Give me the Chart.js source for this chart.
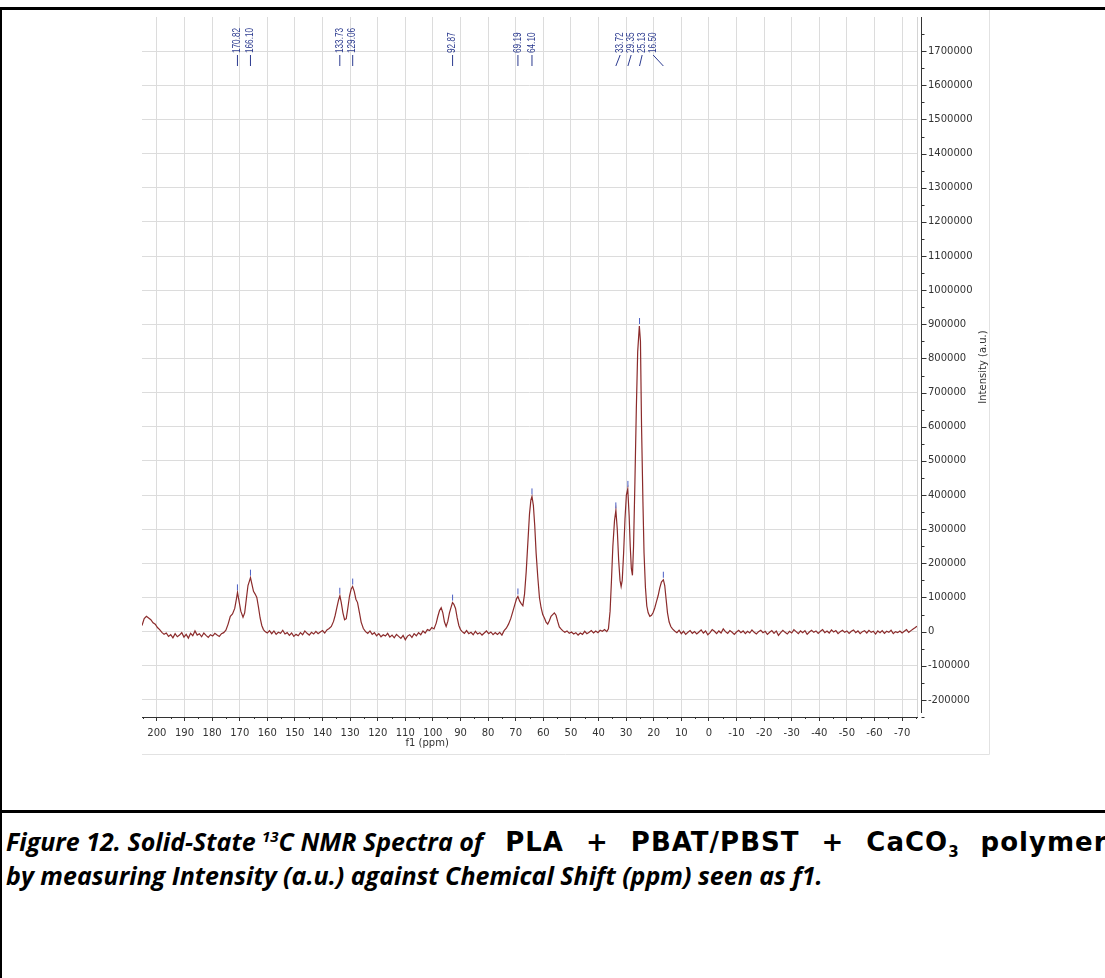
<!DOCTYPE html>
<html>
<head>
<meta charset="utf-8">
<title>Solid-State 13C NMR</title>
<script src="https://cdn.jsdelivr.net/npm/chart.js@4.4.1/dist/chart.umd.min.js"></script>
<style>
  html, body { margin: 0; padding: 0; background: #fff; }
  body { width: 1105px; height: 978px; position: relative; overflow: hidden; }
  #frame { position: absolute; left: 0; top: 7px; width: 1200px; height: 1000px;
           border-top: 3px solid #000; border-left: 2px solid #000; }
  #divider { position: absolute; left: 0; top: 810px; width: 1200px; border-top: 3px solid #000; }
  #chartBox { position: absolute; left: 0; top: 0; width: 1105px; height: 800px; }
  #caption { position: absolute; left: 6px; top: 825px; white-space: nowrap;
             font-family: 'Open Sans', sans-serif; font-weight: bold; font-size: 25px;
             line-height: 33px; color: #000; }
  #caption .up { font-family: 'DejaVu Sans', sans-serif; font-size: 26px;
                 letter-spacing: 1px; word-spacing: 12px; }
  #caption sup, #caption sub { font-size: 15px; line-height: 0; letter-spacing: 0; }
</style>
</head>
<body>
<div id="frame"></div>
<div id="chartBox"><canvas id="nmr" width="1105" height="800"></canvas></div>
<div id="divider"></div>
<div id="caption">
  <div><i>Figure 12. Solid-State <sup>13</sup>C NMR Spectra of</i><span class="up"> PLA + PBAT/PBST + CaCO<sub>3</sub> polymer</span></div>
  <div><i>by measuring Intensity (a.u.) against Chemical Shift (ppm) seen as f1.</i></div>
</div>
<script>
// chemical shift (ppm) and intensity (a.u.) of the spectrum
const shiftPpm = [
  205.4, 204.6, 203.8, 203.0, 202.2, 201.4, 200.6, 199.8, 199.0, 198.2,
  197.4, 196.6, 195.8, 195.0, 194.2, 193.4, 192.6, 191.8, 191.0, 190.2,
  189.4, 188.6, 187.8, 187.0, 186.2, 185.4, 184.6, 183.8, 183.0, 182.2,
  181.4, 180.6, 179.8, 179.0, 178.2, 177.4, 176.6, 175.8, 175.0, 174.2,
  173.4, 172.6, 171.8, 171.2, 170.8, 170.3, 169.6, 168.8, 168.2, 167.6,
  167.0, 166.4, 166.1, 165.6, 165.0, 164.4, 163.8, 163.2, 162.6, 162.0,
  161.4, 160.8, 160.0, 159.2, 158.4, 157.6, 156.8, 156.0, 155.2, 154.4,
  153.6, 152.8, 152.0, 151.2, 150.4, 149.6, 148.8, 148.0, 147.2, 146.4,
  145.6, 144.8, 144.0, 143.2, 142.4, 141.6, 140.8, 140.0, 139.2, 138.4,
  137.6, 136.8, 136.0, 135.4, 134.8, 134.2, 133.7, 133.2, 132.6, 132.0,
  131.4, 130.8, 130.2, 129.6, 129.1, 128.5, 127.9, 127.3, 126.6, 126.0,
  125.2, 124.4, 123.6, 122.8, 122.0, 121.2, 120.4, 119.6, 118.8, 118.0,
  117.2, 116.4, 115.6, 114.8, 114.0, 113.2, 112.4, 111.6, 110.8, 110.0,
  109.2, 108.4, 107.6, 106.8, 106.0, 105.2, 104.4, 103.6, 102.8, 102.0,
  101.2, 100.4, 99.6, 98.8, 98.2, 97.6, 97.0, 96.4, 95.8, 95.2,
  94.6, 94.0, 93.4, 92.9, 92.4, 91.8, 91.2, 90.6, 90.0, 89.4,
  88.6, 87.8, 87.0, 86.2, 85.4, 84.6, 83.8, 83.0, 82.2, 81.4,
  80.6, 79.8, 79.0, 78.2, 77.4, 76.6, 75.8, 75.0, 74.2, 73.4,
  72.6, 71.8, 71.0, 70.3, 69.7, 69.2, 68.6, 68.0, 67.4, 66.8,
  66.2, 65.6, 65.0, 64.5, 64.1, 63.6, 63.1, 62.6, 62.0, 61.4,
  60.8, 60.2, 59.6, 59.0, 58.4, 57.8, 57.2, 56.6, 56.0, 55.4,
  54.8, 54.2, 53.6, 53.0, 52.2, 51.4, 50.6, 49.8, 49.0, 48.2,
  47.4, 46.6, 45.8, 45.0, 44.2, 43.4, 42.6, 41.8, 41.0, 40.2,
  39.4, 38.6, 37.8, 37.0, 36.4, 35.8, 35.3, 34.8, 34.2, 33.7,
  33.2, 32.7, 32.2, 31.8, 31.4, 30.9, 30.4, 29.9, 29.4, 28.9,
  28.5, 28.1, 27.7, 27.3, 26.8, 26.3, 25.8, 25.2, 24.8, 24.4,
  23.9, 23.5, 23.0, 22.5, 22.0, 21.4, 20.8, 20.2, 19.6, 19.0,
  18.4, 17.8, 17.2, 16.5, 16.0, 15.5, 15.0, 14.4, 13.8, 13.2,
  12.4, 11.6, 10.8, 10.0, 9.2, 8.4, 7.6, 6.8, 6.0, 5.2,
  4.4, 3.6, 2.8, 2.0, 1.2, 0.4, -0.4, -1.2, -2.0, -2.8,
  -3.6, -4.4, -5.2, -6.0, -6.8, -7.6, -8.4, -9.2, -10.0, -10.8,
  -11.6, -12.4, -13.2, -14.0, -14.8, -15.6, -16.4, -17.2, -18.0, -18.8,
  -19.6, -20.4, -21.2, -22.0, -22.8, -23.6, -24.4, -25.2, -26.0, -26.8,
  -27.6, -28.4, -29.2, -30.0, -30.8, -31.6, -32.4, -33.2, -34.0, -34.8,
  -35.6, -36.4, -37.2, -38.0, -38.8, -39.6, -40.4, -41.2, -42.0, -42.8,
  -43.6, -44.4, -45.2, -46.0, -46.8, -47.6, -48.4, -49.2, -50.0, -50.8,
  -51.6, -52.4, -53.2, -54.0, -54.8, -55.6, -56.4, -57.2, -58.0, -58.8,
  -59.6, -60.4, -61.2, -62.0, -62.8, -63.6, -64.4, -65.2, -66.0, -66.8,
  -67.6, -68.4, -69.2, -70.0, -70.8, -71.6, -72.4, -73.2, -74.0, -74.8,
  -75.4
];
const intensity = [
  18000, 38000, 45000, 40000, 35000, 26000, 22000, 12000, 6000, -2000,
  -8000, -4000, -14000, -9000, -18000, -6000, -15000, -10000, -3000, -16000,
  -8000, -19000, -5000, -12000, 2000, -10000, -6000, -15000, -4000, -11000,
  -17000, -9000, -13000, -5000, -10000, -14000, -6000, -3000, 4000, 22000,
  45000, 52000, 68000, 95000, 115000, 92000, 60000, 42000, 55000, 95000,
  135000, 150000, 158000, 140000, 118000, 110000, 100000, 72000, 40000, 18000,
  6000, 0, -4000, 3000, -6000, 2000, -8000, -2000, -5000, 4000,
  -7000, -3000, -11000, -4000, -14000, -8000, -12000, -3000, -9000, 2000,
  -5000, -10000, -2000, -7000, 1000, -6000, -1000, 3000, -4000, 5000,
  9000, 15000, 30000, 48000, 70000, 92000, 105000, 85000, 55000, 35000,
  38000, 70000, 105000, 125000, 132000, 118000, 95000, 85000, 55000, 28000,
  9000, 0, -5000, 2000, -8000, -3000, -12000, -6000, -15000, -9000,
  -13000, -5000, -16000, -10000, -18000, -8000, -14000, -20000, -11000, -24000,
  -13000, -9000, -17000, -6000, -12000, -3000, -9000, 2000, -4000, 6000,
  3000, 12000, 8000, 25000, 45000, 62000, 70000, 55000, 28000, 15000,
  30000, 55000, 72000, 85000, 80000, 68000, 40000, 18000, 6000, 0,
  -5000, 3000, -6000, -2000, -9000, 1000, -7000, -3000, -10000, -4000,
  2000, -6000, -1000, -9000, -3000, -8000, -2000, -10000, 3000, 10000,
  22000, 38000, 60000, 80000, 96000, 103000, 90000, 82000, 76000, 110000,
  175000, 260000, 345000, 385000, 396000, 370000, 310000, 230000, 160000, 100000,
  70000, 50000, 40000, 28000, 22000, 32000, 45000, 50000, 55000, 48000,
  30000, 14000, 8000, 3000, -2000, 2000, -5000, -1000, -7000, -3000,
  -10000, -4000, -8000, 1000, -6000, -2000, 3000, -4000, 2000, -3000,
  4000, 1000, 6000, 0, 8000, 60000, 150000, 250000, 325000, 355000,
  300000, 210000, 150000, 132000, 150000, 230000, 330000, 400000, 418000, 340000,
  250000, 185000, 165000, 250000, 440000, 650000, 820000, 895000, 850000, 600000,
  380000, 230000, 130000, 75000, 55000, 45000, 48000, 56000, 70000, 88000,
  105000, 128000, 145000, 152000, 135000, 95000, 55000, 28000, 15000, 8000,
  2000, -3000, 4000, -6000, 1000, -8000, -2000, 3000, -5000, 0,
  -7000, -1000, 5000, -4000, 2000, -9000, -3000, 6000, 1000, -6000,
  2000, -4000, 8000, 0, -5000, 3000, -2000, -8000, -1000, 4000,
  -3000, 2000, -6000, 1000, -4000, 5000, -2000, -7000, 0, 4000,
  -3000, 1000, -8000, -2000, 3000, -5000, 2000, -11000, -3000, 4000,
  -2000, -7000, 1000, -4000, 6000, 0, -6000, 2000, -3000, 3000,
  -8000, -1000, 4000, -2000, 2000, -5000, 1000, 6000, -3000, 2000,
  -4000, 5000, -1000, 3000, -6000, 0, 4000, -2000, 2000, -5000,
  1000, 5000, -3000, 2000, -6000, 0, 3000, -4000, 4000, -2000,
  1000, -7000, 2000, -3000, 3000, -5000, 1000, -2000, 4000, -6000,
  0, -3000, 2000, -4000, 1000, 6000, -2000, 3000, 8000, 12000,
  16000
];

// axis ticks
const xTicks = [200, 190, 180, 170, 160, 150, 140, 130, 120, 110, 100, 90, 80, 70, 60,
                50, 40, 30, 20, 10, 0, -10, -20, -30, -40, -50, -60, -70];
const yTicks = [-200000, -100000, 0, 100000, 200000, 300000, 400000, 500000, 600000, 700000,
                800000, 900000, 1000000, 1100000, 1200000, 1300000, 1400000, 1500000,
                1600000, 1700000];

// picked peaks
const peakShifts = [170.82, 166.10, 133.73, 129.06, 92.87, 69.19, 64.10, 33.72, 29.35, 25.13, 16.50];
const peakLabels = ['170.82', '166.10', '133.73', '129.06', '92.87', '69.19', '64.10',
                    '33.72', '29.35', '25.13', '16.50'];

const axisFont = 'DejaVu Sans';
const inkColor = '#333';
const peakColor = '#2b3a8f';

function line(ctx, x1, y1, x2, y2) {
  ctx.beginPath();
  ctx.moveTo(x1, y1);
  ctx.lineTo(x2, y2);
  ctx.stroke();
}

function nearestIndex(ppm) {
  let best = 0;
  for (let i = 1; i < shiftPpm.length; i++) {
    if (Math.abs(shiftPpm[i] - ppm) < Math.abs(shiftPpm[best] - ppm)) best = i;
  }
  return best;
}

// axis line, minor ticks, axis titles and peak labels
const nmrDecor = {
  id: 'nmrDecor',
  afterDraw(chart) {
    const { ctx, chartArea: a, scales: { x, y } } = chart;
    ctx.save();
    ctx.lineWidth = 1;

    // light page frame (right and bottom) and plot right edge
    ctx.strokeStyle = '#e2e2e2';
    line(ctx, 142, 754.5, 989.5, 754.5);
    line(ctx, 989.5, 10, 989.5, 754.5);
    ctx.strokeStyle = '#d4d4d4';
    line(ctx, Math.round(a.right) + 0.5, a.top, Math.round(a.right) + 0.5, a.bottom);

    // intensity axis, set slightly off the plot
    const ax = Math.round(a.right) + 4.5;
    ctx.strokeStyle = inkColor;
    line(ctx, ax, a.top, ax, a.bottom - 4);
    yTicks.forEach(v => {
      const py = Math.round(y.getPixelForValue(v)) + 0.5;
      line(ctx, ax, py, ax + 5, py);
    });
    for (let i = 0; i <= yTicks.length; i++) {
      const lo = i === 0 ? yTicks[0] - 100000 : yTicks[i - 1];
      const v = lo + 50000;
      if (v < y.min || v > y.max) continue;
      const py = Math.round(y.getPixelForValue(v)) + 0.5;
      line(ctx, ax, py, ax + 3, py);
    }

    // minor ticks on the shift axis
    for (let i = 0; i <= xTicks.length; i++) {
      const hi = i === 0 ? xTicks[0] + 10 : xTicks[i - 1];
      const v = hi - 5;
      if (v < x.min || v > x.max) continue;
      const px = Math.round(x.getPixelForValue(v)) + 0.5;
      line(ctx, px, a.bottom, px, a.bottom + 2);
    }

    // axis titles
    ctx.fillStyle = inkColor;
    ctx.font = '10px "' + axisFont + '"';
    ctx.textAlign = 'center';
    ctx.textBaseline = 'middle';
    ctx.fillText('f1 (ppm)', a.left + (a.right - a.left) * 0.368, a.bottom + 26);
    ctx.save();
    ctx.translate(983, (a.top + a.bottom) / 2);
    ctx.rotate(-Math.PI / 2);
    ctx.fillText('Intensity (a.u.)', 0, 0);
    ctx.restore();

    // peak labels: close multiplets are fanned out with slanted leaders
    const px = peakShifts.map(s => x.getPixelForValue(s));
    const lx = px.slice();
    let start = 0;
    for (let i = 1; i <= px.length; i++) {
      if (i === px.length || px[i] - px[i - 1] > 30) {
        const group = px.slice(start, i);
        let minGap = Infinity;
        for (let k = 1; k < group.length; k++) minGap = Math.min(minGap, group[k] - group[k - 1]);
        if (group.length > 1 && minGap < 12.5) {
          const mean = group.reduce((s, v) => s + v, 0) / group.length;
          group.forEach((_, k) => { lx[start + k] = mean + (k - (group.length - 1) / 2) * 11; });
        }
        start = i;
      }
    }
    ctx.strokeStyle = peakColor;
    ctx.fillStyle = peakColor;
    ctx.font = '10px "Liberation Sans", sans-serif';
    ctx.textAlign = 'left';
    ctx.textBaseline = 'middle';
    peakLabels.forEach((label, i) => {
      line(ctx, lx[i], 55, px[i], 66);
      ctx.save();
      ctx.translate(lx[i], 53);
      ctx.rotate(-Math.PI / 2);
      ctx.scale(0.82, 1);
      ctx.fillText(label, 0, 0);
      ctx.restore();
      // marker above the picked maximum
      const top = y.getPixelForValue(intensity[nearestIndex(peakShifts[i])]);
      ctx.strokeStyle = '#4b5fc4';
      line(ctx, px[i], top - 8, px[i], top - 2);
      ctx.strokeStyle = peakColor;
    });
    ctx.restore();
  }
};

new Chart(document.getElementById('nmr'), {
  type: 'line',
  data: {
    datasets: [{
      data: shiftPpm.map((s, i) => ({ x: s, y: intensity[i] })),
      borderColor: '#8b2b2b',
      borderWidth: 1.2,
      pointRadius: 0,
      tension: 0
    }]
  },
  options: {
    responsive: false,
    animation: false,
    layout: { padding: { left: 142, top: 17, right: 114, bottom: 43 } },
    plugins: { legend: { display: false }, tooltip: { enabled: false } },
    scales: {
      x: {
        type: 'linear',
        reverse: true,
        min: -75.4,
        max: 205.4,
        afterBuildTicks: s => { s.ticks = xTicks.map(v => ({ value: v })); },
        afterFit: s => { s.height = 40; },
        grid: { color: '#dcdcdc', tickColor: inkColor, tickLength: 4 },
        border: { display: true, color: inkColor },
        ticks: {
          autoSkip: false, maxRotation: 0, padding: 6, color: inkColor,
          font: { family: axisFont, size: 10 },
          callback: v => String(v)
        }
      },
      y: {
        position: 'right',
        min: -250000,
        max: 1800000,
        afterBuildTicks: s => { s.ticks = yTicks.map(v => ({ value: v })); },
        afterFit: s => { s.width = 74; },
        grid: { color: '#dcdcdc', drawTicks: false },
        border: { display: false },
        ticks: {
          padding: 11, color: inkColor,
          font: { family: axisFont, size: 10 },
          callback: v => String(v)
        }
      }
    }
  },
  plugins: [nmrDecor]
});
</script>
</body>
</html>
